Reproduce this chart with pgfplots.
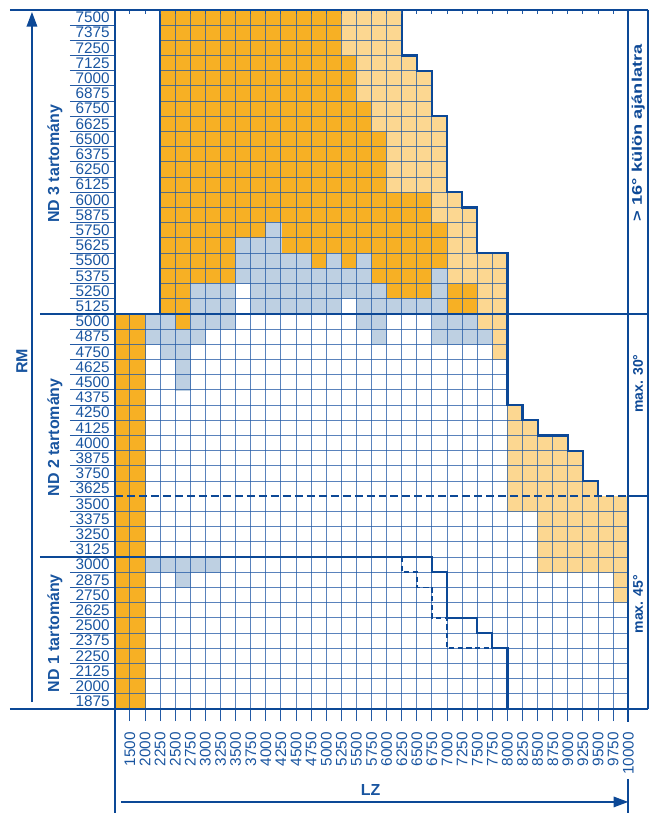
\documentclass[border=0pt]{standalone}
\usepackage{pgfplots}
\pgfplotsset{compat=1.18}
\usepgfplotslibrary{patchplots}
\usetikzlibrary{arrows.meta}
\usepackage{fontspec}
\setmainfont{Liberation Sans}
\definecolor{cOr}{RGB}{247,176,36}
\definecolor{cLo}{RGB}{252,215,145}
\definecolor{cBl}{RGB}{190,208,226}
\definecolor{cGrid}{RGB}{35,90,165}
\definecolor{cDark}{RGB}{12,72,150}
\definecolor{cText}{RGB}{25,85,160}
\begin{document}
\begin{tikzpicture}
\begin{scope}[x=0.75pt,y=-0.75pt,shift={(-86.25pt,532.5pt)}]
\useasboundingbox (0,0) rectangle (651,814);
\end{scope}
\begin{axis}[
  at={(0pt,0pt)}, anchor=origin,
  x=11.34pt, y=11.415pt,
  xmin=0, xmax=34, ymin=0, ymax=46,
  clip=false,
  axis x line*=bottom, axis y line*=left,
  axis line style={draw=none},
  colormap={cellmap}{rgb255=(190,208,226) rgb255=(247,176,36) rgb255=(252,215,145)},
  point meta min=1, point meta max=3,
  xtick={1,...,34},
  xticklabels={1500,2000,2250,2500,2750,3000,3250,3500,3750,4000,4250,4500,4750,5000,5250,5500,5750,6000,6250,6500,6750,7000,7250,7500,7750,8000,8250,8500,8750,9000,9250,9500,9750,10000},
  ytick={0.5,1.5,...,45.5},
  yticklabels={1875,2000,2125,2250,2375,2500,2625,2750,2875,3000,3125,3250,3375,3500,3625,3750,3875,4000,4125,4250,4375,4500,4625,4750,4875,5000,5125,5250,5375,5500,5625,5750,5875,6000,6125,6250,6375,6500,6625,6750,6875,7000,7125,7250,7375,7500},
  tick align=outside,
  major tick length=9pt,
  xtick style={cGrid, line width=0.8pt},
  ytick style={draw=none},
  every tick label/.append style={font=\fontsize{11.5}{12}\selectfont, text=cText, inner sep=0pt},
  xticklabel style={rotate=90, anchor=east},
  xticklabel shift=8pt,
  yticklabel style={anchor=east},
  yticklabel shift=-5.25pt,
]
% coloured cells (m: 1 blue, 2 orange, 3 light orange)
\addplot[patch, patch type=rectangle, shader=flat, point meta=explicit] table[x=x, y=y, meta=m] {
x y m
0 0 2
2 0 2
2 26 2
0 26 2
3 43 2
15 43 2
15 46 2
3 46 2
3 40 2
16 40 2
16 43 2
3 43 2
3 38 2
17 38 2
17 40 2
3 40 2
3 34 2
18 34 2
18 38 2
3 38 2
3 32 2
21 32 2
21 34 2
3 34 2
3 31 2
10 31 2
10 32 2
3 32 2
11 30 2
22 30 2
22 32 2
11 32 2
3 30 2
8 30 2
8 31 2
3 31 2
3 28 2
8 28 2
8 30 2
3 30 2
13 29 2
14 29 2
14 30 2
13 30 2
15 29 2
16 29 2
16 30 2
15 30 2
17 29 2
22 29 2
22 30 2
17 30 2
17 28 2
21 28 2
21 29 2
17 29 2
3 26 2
5 26 2
5 28 2
3 28 2
18 27 2
21 27 2
21 28 2
18 28 2
22 26 2
24 26 2
24 28 2
22 28 2
4 25 2
5 25 2
5 26 2
4 26 2
15 43 3
19 43 3
19 46 3
15 46 3
16 42 3
20 42 3
20 43 3
16 43 3
16 40 3
21 40 3
21 42 3
16 42 3
17 39 3
21 39 3
21 40 3
17 40 3
17 38 3
22 38 3
22 39 3
17 39 3
18 34 3
22 34 3
22 38 3
18 38 3
21 33 3
23 33 3
23 34 3
21 34 3
21 32 3
24 32 3
24 33 3
21 33 3
22 30 3
24 30 3
24 32 3
22 32 3
22 28 3
26 28 3
26 30 3
22 30 3
24 25 3
26 25 3
26 28 3
24 28 3
25 23 3
26 23 3
26 25 3
25 25 3
26 19 3
27 19 3
27 20 3
26 20 3
26 18 3
28 18 3
28 19 3
26 19 3
26 17 3
30 17 3
30 18 3
26 18 3
26 15 3
31 15 3
31 17 3
26 17 3
26 14 3
32 14 3
32 15 3
26 15 3
26 13 3
34 13 3
34 14 3
26 14 3
28 9 3
34 9 3
34 13 3
28 13 3
33 7 3
34 7 3
34 9 3
33 9 3
10 31 1
11 31 1
11 32 1
10 32 1
8 30 1
11 30 1
11 31 1
8 31 1
8 29 1
13 29 1
13 30 1
8 30 1
14 29 1
15 29 1
15 30 1
14 30 1
16 29 1
17 29 1
17 30 1
16 30 1
8 28 1
17 28 1
17 29 1
8 29 1
21 26 1
22 26 1
22 29 1
21 29 1
5 25 1
8 25 1
8 28 1
5 28 1
9 27 1
18 27 1
18 28 1
9 28 1
9 26 1
15 26 1
15 27 1
9 27 1
16 26 1
21 26 1
21 27 1
16 27 1
2 25 1
4 25 1
4 26 1
2 26 1
16 25 1
18 25 1
18 26 1
16 26 1
21 25 1
24 25 1
24 26 1
21 26 1
2 24 1
6 24 1
6 25 1
2 25 1
17 24 1
18 24 1
18 25 1
17 25 1
21 24 1
25 24 1
25 25 1
21 25 1
3 23 1
5 23 1
5 24 1
3 24 1
4 21 1
5 21 1
5 23 1
4 23 1
2 9 1
7 9 1
7 10 1
2 10 1
4 8 1
5 8 1
5 9 1
4 9 1
};
% grid: vertical lines
\addplot[cGrid, line width=0.8pt, opacity=0.75, unbounded coords=jump] coordinates {
(0,0)(0,26)(0,nan)(1,0)(1,26)(1,nan)(2,0)(2,26)(2,nan)
(3,0)(3,46)(3,nan)(4,0)(4,46)(4,nan)(5,0)(5,46)(5,nan)(6,0)(6,46)(6,nan)
(7,0)(7,46)(7,nan)(8,0)(8,46)(8,nan)(9,0)(9,46)(9,nan)(10,0)(10,46)(10,nan)
(11,0)(11,46)(11,nan)(12,0)(12,46)(12,nan)(13,0)(13,46)(13,nan)(14,0)(14,46)(14,nan)
(15,0)(15,46)(15,nan)(16,0)(16,46)(16,nan)(17,0)(17,46)(17,nan)(18,0)(18,46)(18,nan)
(19,0)(19,46)(19,nan)(20,0)(20,43)(20,nan)(21,0)(21,42)(21,nan)(22,0)(22,39)(22,nan)
(23,0)(23,34)(23,nan)(24,0)(24,33)(24,nan)(25,0)(25,30)(25,nan)(26,0)(26,30)(26,nan)
(27,0)(27,20)(27,nan)(28,0)(28,19)(28,nan)(29,0)(29,18)(29,nan)(30,0)(30,18)(30,nan)
(31,0)(31,17)(31,nan)(32,0)(32,15)(32,nan)(33,0)(33,14)(33,nan)(34,0)(34,14)
};
% grid: horizontal lines
\addplot[cGrid, line width=0.8pt, opacity=0.75, unbounded coords=jump] coordinates {
(0,1)(34,1)(0,nan)(0,2)(34,2)(0,nan)(0,3)(34,3)(0,nan)(0,4)(34,4)(0,nan)
(0,5)(34,5)(0,nan)(0,6)(34,6)(0,nan)(0,7)(34,7)(0,nan)(0,8)(34,8)(0,nan)
(0,9)(34,9)(0,nan)(0,11)(34,11)(0,nan)(0,12)(34,12)(0,nan)(0,13)(34,13)(0,nan)
(0,10)(34,10)(0,nan)
(0,15)(32,15)(0,nan)(0,16)(31,16)(0,nan)(0,17)(31,17)(0,nan)(0,18)(30,18)(0,nan)
(0,19)(28,19)(0,nan)(0,20)(27,20)(0,nan)(0,21)(26,21)(0,nan)(0,22)(26,22)(0,nan)
(0,23)(26,23)(0,nan)(0,24)(26,24)(0,nan)(0,25)(26,25)(0,nan)
(3,27)(26,27)(0,nan)(3,28)(26,28)(0,nan)(3,29)(26,29)(0,nan)(3,30)(26,30)(0,nan)
(3,31)(24,31)(0,nan)(3,32)(24,32)(0,nan)(3,33)(24,33)(0,nan)(3,34)(23,34)(0,nan)
(3,35)(22,35)(0,nan)(3,36)(22,36)(0,nan)(3,37)(22,37)(0,nan)(3,38)(22,38)(0,nan)
(3,39)(22,39)(0,nan)(3,40)(21,40)(0,nan)(3,41)(21,41)(0,nan)(3,42)(21,42)(0,nan)
(3,43)(20,43)(0,nan)(3,44)(19,44)(0,nan)(3,45)(19,45)
};
% outline of the grid (staircase)
\addplot[cDark, line width=1.6pt, unbounded coords=jump] coordinates {
(3,26)(3,46)(3,nan)
(19,46)(19,43)(20,43)(20,42)(21,42)(21,39)(22,39)(22,34)(23,34)(23,33)(24,33)(24,30)(26,30)(26,20)(27,20)(27,19)(28,19)(28,18)(30,18)(30,17)(31,17)(31,15)(32,15)(32,14)
};
% ND 1 / ND 2 boundary, solid staircase
\addplot[cDark, line width=1.6pt] coordinates {
(0,10)(21,10)(21,9)(22,9)(22,6)(24,6)(24,5)(25,5)(25,4)(26,4)(26,0)
};
% dashed staircase
\addplot[cDark, line width=1.3pt, dash pattern=on 4pt off 2.5pt] coordinates {
(19,10)(19,9)(20,9)(20,8)(21,8)(21,6)(22,6)(22,4)(25,4)
};
% dashed line 3500 / 3625
\addplot[cDark, line width=1.3pt, dash pattern=on 6pt off 3pt] coordinates {(0,14)(34,14)};
\end{axis}
\begin{scope}[x=0.75pt,y=-0.75pt,shift={(-86.25pt,532.5pt)}]
\foreach \k in {1,...,45} \draw[cGrid, line width=0.7pt] (70,{710-15.22*\k}) -- (115,{710-15.22*\k});
\foreach \j in {1,...,33} \draw[cGrid, line width=0.7pt] ({115+15.12*\j},10) -- ++(0,4);
\begin{scope}[cDark, line width=1.6pt]
\draw (10,10) -- (649,10);
\draw (10,710) -- (649,710);
\draw (40,{710-15.22*26}) -- (649,{710-15.22*26});
\draw (40,{710-15.22*10}) -- (115,{710-15.22*10});
\draw (115,10) -- (115,814);
\draw (629,10) -- (629,723);
\draw (629,780) -- (629,814);
\draw (649,10) -- (649,710);
\draw (629,{710-15.22*14}) -- (649,{710-15.22*14});
\end{scope}
\draw[cDark, line width=1pt, -{Triangle[length=11pt,width=8pt]}] (32,703) -- (32,12);
\draw[cDark, line width=1pt, -{Triangle[length=11pt,width=8pt]}] (121,803) -- (629,803);
\begin{scope}[every node/.style={text=cText, font=\bfseries\fontsize{12}{14}\selectfont}]
\node[rotate=90] at (55,164) {ND 3 tartomány};
\node[rotate=90] at (55,438) {ND 2 tartomány};
\node[rotate=90] at (55,634) {ND 1 tartomány};
\node[rotate=90] at (22,362) {RM};
\node at (371,791) {LZ};
\end{scope}
\begin{scope}[every node/.style={text=cDark, font=\bfseries\fontsize{10.5}{12}\selectfont}]
\node[rotate=90] at (639,133) {\scalebox{1.3}[1]{> 16° külön ajánlatra}};
\node[rotate=90] at (639,384) {max. 30°};
\node[rotate=90] at (639,605) {max. 45°};
\end{scope}
\end{scope}
\end{tikzpicture}
\end{document}
